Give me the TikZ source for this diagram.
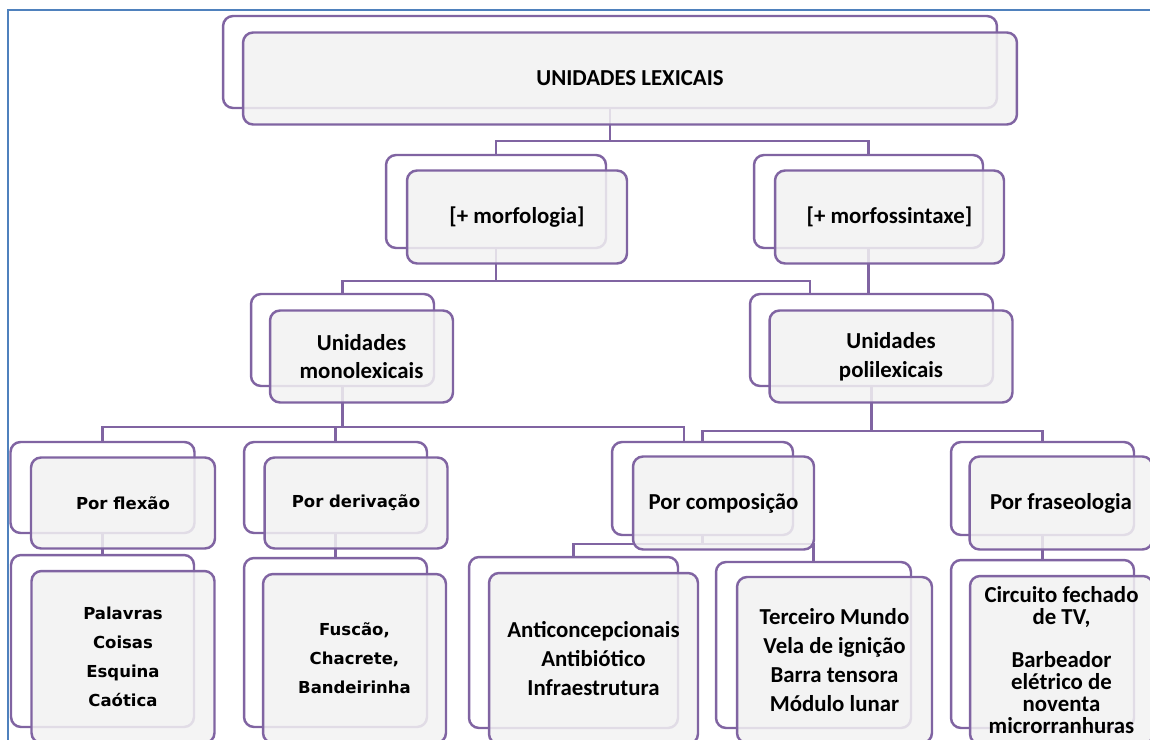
\documentclass[tikz,border=0pt]{standalone}
\usepackage{fontspec}
\setmainfont{Carlito}
\newfontfamily\wideface{DejaVu Sans}
\usetikzlibrary{calc,backgrounds}
\definecolor{boxline}{HTML}{8064A2}
\definecolor{boxfill}{HTML}{F2F2F2}
\definecolor{frameline}{HTML}{4F81BD}

\begin{document}
\begin{tikzpicture}[
		x=0.02cm, y=-0.02cm,
		every node/.style={rectangle, rounded corners=0.2cm, draw=boxline, line width=1.4pt, inner sep=0pt},
		backbox/.style={fill=white},
		frontbox/.style={fill=boxfill, fill opacity=0.85, text opacity=1, align=center, font=\fontsize{13}{16.4}\selectfont\bfseries},
		wide/.style={font=\wideface\fontsize{9.4}{16.4}\selectfont\bfseries},
		link/.style={draw=boxline, line width=1.2pt}
	]
  \useasboundingbox (0,0) rectangle (1150,740);
  \draw [frameline, line width=1pt] (8,740) -- (8,10) -- (1150,10);

  \node (top_b) [backbox, minimum width=15.48cm, minimum height=1.84cm] at (610,62) {};
  \node (top) [frontbox, minimum width=15.48cm, minimum height=1.84cm] at (630,78.5) {UNIDADES LEXICAIS};

  \node (morf_b) [backbox, minimum width=4.4cm, minimum height=1.86cm] at (496,201.5) {};
  \node (morf) [frontbox, minimum width=4.4cm, minimum height=1.86cm] at (517,217) {[+ morfologia]};
  \node (morfs_b) [backbox, minimum width=4.58cm, minimum height=1.86cm] at (868.5,201.5) {};
  \node (morfs) [frontbox, minimum width=4.58cm, minimum height=1.86cm] at (889.5,217) {[+ morfossintaxe]};

  \node (mono_b) [backbox, minimum width=3.66cm, minimum height=1.84cm] at (342.5,340) {};
  \node (mono) [frontbox, minimum width=3.66cm, minimum height=1.84cm] at (361.5,356.5) {Unidades\\monolexicais};
  \node (poli_b) [backbox, minimum width=4.86cm, minimum height=1.84cm] at (871.5,340) {};
  \node (poli) [frontbox, minimum width=4.86cm, minimum height=1.84cm] at (891,356.5) {Unidades\\polilexicais};

  \node (flex_b) [backbox, minimum width=3.68cm, minimum height=1.82cm] at (102.5,487.5) {};
  \node (flex) [frontbox, wide, minimum width=3.68cm, minimum height=1.82cm] at (123,503) {Por flexão};
  \node (deriv_b) [backbox, minimum width=3.66cm, minimum height=1.82cm] at (335.5,487.5) {};
  \node (deriv) [frontbox, wide, minimum width=3.66cm, minimum height=1.82cm] at (356,503) {Por derivação};
  \node (comp_b) [backbox, minimum width=3.62cm, minimum height=1.86cm] at (702.5,488.5) {};
  \node (comp) [frontbox, minimum width=3.62cm, minimum height=1.86cm] at (723.5,503) {Por composição};
  \node (fras_b) [backbox, minimum width=3.66cm, minimum height=1.86cm] at (1042.5,488.5) {};
  \node (fras) [frontbox, minimum width=3.66cm, minimum height=1.86cm] at (1061,503) {Por fraseologia};

  \node (palav_b) [backbox, minimum width=3.66cm, minimum height=3.44cm] at (102.5,641) {};
  \node (palav) [frontbox, wide, minimum width=3.66cm, minimum height=3.44cm] at (123,657) {Palavras\\Coisas\\Esquina\\Caótica};
  \node (fusc_b) [backbox, minimum width=3.66cm, minimum height=3.38cm] at (335.5,642.5) {};
  \node (fusc) [frontbox, wide, minimum width=3.66cm, minimum height=3.38cm] at (354.5,658.5) {Fuscão,\\Chacrete,\\Bandeirinha};
  \node (anti_b) [backbox, minimum width=4.18cm, minimum height=3.42cm] at (573.5,642.5) {};
  \node (anti) [frontbox, minimum width=4.18cm, minimum height=3.42cm] at (593.5,658.5) {Anticoncepcionais\\Antibiótico\\Infraestrutura};
  \node (terc_b) [backbox, minimum width=3.9cm, minimum height=3.32cm] at (813.5,645) {};
  \node (terc) [frontbox, minimum width=3.9cm, minimum height=3.32cm] at (834.5,660) {Terceiro Mundo\\Vela de ignição\\Barra tensora\\Módulo lunar};
  \node (circ_b) [backbox, minimum width=3.66cm, minimum height=3.36cm] at (1042.5,644) {};
  \node (circ) [frontbox, font=\fontsize{13}{12.5}\selectfont\bfseries, minimum width=3.66cm, minimum height=3.36cm] at (1061.5,660) {Circuito fechado\\de TV,\\[12.5pt]Barbeador\\elétrico de\\noventa\\microrranhuras};

  \coordinate (bus0) at (0,141);
  \coordinate (bus1) at (0,281);
  \coordinate (bus2) at (0,427);
  \coordinate (bus2p) at (0,431);
  \coordinate (bus3) at (0,544);
  \coordinate (poli_in) at ($(poli_b.north west)!0.25!(poli_b.north east)$);
  \coordinate (comp_in) at ($(comp_b.north west)!0.4!(comp_b.north east)$);

  \begin{scope}[on background layer]
    \draw [link] (top_b.south) |- (morf_b.north |- bus0) -- (morf_b.north);
    \draw [link] (top_b.south) |- (morfs_b.north |- bus0) -- (morfs_b.north);
    \draw [link] (morf_b.south) |- (mono_b.north |- bus1) -- (mono_b.north);
    \draw [link] (morf_b.south) |- (poli_in |- bus1) -- (poli_in);
    \draw [link] (morfs_b.south) -- (morfs_b.south |- poli_b.north);
    \draw [link] (mono_b.south) |- (flex_b.north |- bus2) -- (flex_b.north);
    \draw [link] (mono_b.south) |- (deriv_b.north |- bus2) -- (deriv_b.north);
    \draw [link] (mono_b.south) |- (comp_in |- bus2) -- (comp_in);
    \draw [link] (poli_b.south) |- (comp_b.north |- bus2p) -- (comp_b.north);
    \draw [link] (poli_b.south) |- (fras_b.north |- bus2p) -- (fras_b.north);
    \draw [link] (flex_b.south) -- (palav_b.north);
    \draw [link] (deriv_b.south) -- (fusc_b.north);
    \draw [link] (comp_b.south) |- (anti_b.north |- bus3) -- (anti_b.north);
    \draw [link] (comp_b.south) |- (terc_b.north |- bus3) -- (terc_b.north);
    \draw [link] (fras_b.south) -- (circ_b.north);
  \end{scope}
\end{tikzpicture}
\end{document}
